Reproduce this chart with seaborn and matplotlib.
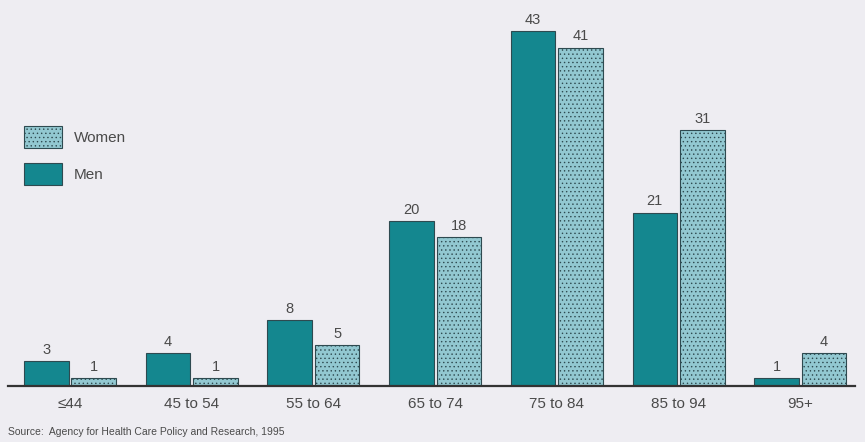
import matplotlib
matplotlib.use("Agg")
import matplotlib.pyplot as plt
import seaborn as sns
import pandas as pd
from matplotlib.patches import Patch

age_groups = ["≤44", "45 to 54", "55 to 64", "65 to 74", "75 to 84", "85 to 94", "95+"]
men = [3, 4, 8, 20, 43, 21, 1]
women = [1, 1, 5, 18, 41, 31, 4]
source = "Source:  Agency for Health Care Policy and Research, 1995"

df = pd.DataFrame({
    "age": age_groups * 2,
    "sex": ["Men"] * len(age_groups) + ["Women"] * len(age_groups),
    "value": men + women,
})

bg = "#eeedf2"
men_color = "#14878f"
women_color = "#92c8d1"
dot_color = "#7cb7c1"
edge_color = "#2e4a50"
text_color = "#4a4a4a"

sns.set_theme(style="white")
plt.rcParams["font.family"] = ["Liberation Sans Narrow", "Liberation Sans", "DejaVu Sans"]
plt.rcParams["hatch.color"] = dot_color
plt.rcParams["hatch.linewidth"] = 0.5

fig = plt.figure(figsize=(8.65, 4.42), dpi=100, facecolor=bg)
ax = fig.add_axes([8 / 865, 56 / 442, 847 / 865, (386 - 14.5) / 442])
ax.set_facecolor(bg)

sns.barplot(data=df, x="age", y="value", hue="sex", order=age_groups,
            hue_order=["Men", "Women"], palette=[men_color, women_color],
            saturation=1, width=0.78, gap=0.06, edgecolor=edge_color,
            linewidth=0.8, legend=False, ax=ax)

# fine dotted screen on the women's bars
for bar in ax.patches[len(age_groups):]:
    bar.set_hatch("....")
    if hasattr(bar, "set_hatchcolor"):
        bar.set_hatchcolor(dot_color)

for container in ax.containers:
    ax.bar_label(container, padding=3, fontsize=10.5, color=text_color)

ax.set_ylim(0, 45)
ax.set_xlim(-0.51, 6.45)
ax.set_xlabel("")
ax.set_ylabel("")
ax.set_yticks([])
for side in ["top", "left", "right"]:
    ax.spines[side].set_visible(False)
ax.spines["bottom"].set_color("#333333")
ax.spines["bottom"].set_linewidth(1.6)
ax.tick_params(axis="x", length=0, pad=8, labelsize=11, labelcolor=text_color)

women_handle = Patch(facecolor=women_color, edgecolor=edge_color, hatch="....",
                     linewidth=0.8, label="Women")
if hasattr(women_handle, "set_hatchcolor"):
    women_handle.set_hatchcolor(dot_color)
handles = [
    women_handle,
    Patch(facecolor=men_color, edgecolor=edge_color, linewidth=0.8, label="Men"),
]
fig.legend(handles=handles, loc="upper left", bbox_to_anchor=(10 / 865, 1 - 112 / 442),
           frameon=False, fontsize=11, labelcolor=text_color,
           handlelength=2.5, handleheight=1.9, labelspacing=0.95, handletextpad=0.8)

fig.text(8 / 865, 1 - 432 / 442, source, fontsize=7.5, color=text_color, va="center")

fig.savefig("out.png", dpi=100, facecolor=bg)
